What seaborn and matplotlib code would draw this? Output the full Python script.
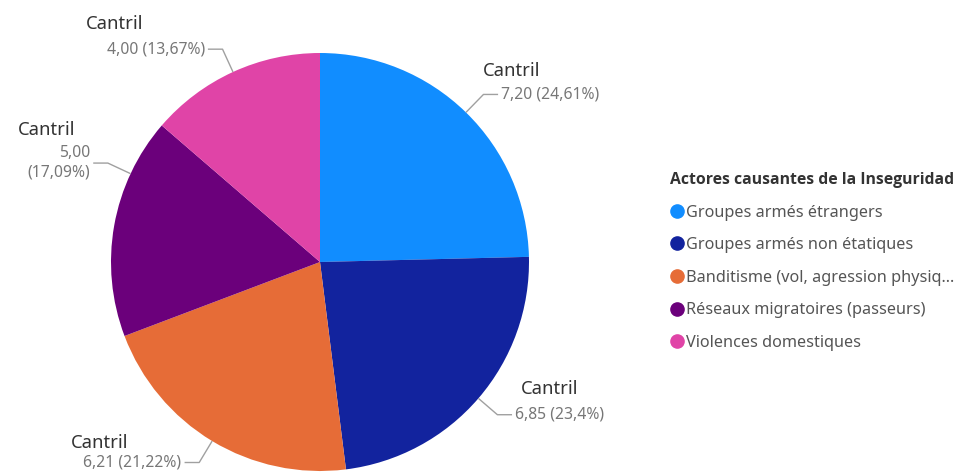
import numpy as np
import matplotlib
matplotlib.use("Agg")
import matplotlib.pyplot as plt
from matplotlib.lines import Line2D
from matplotlib.font_manager import FontProperties
import seaborn as sns

# Données du graphique
categories = [
    "Groupes armés étrangers",
    "Groupes armés non étatiques",
    "Banditisme (vol, agression physiq...",
    "Réseaux migratoires (passeurs)",
    "Violences domestiques",
]
values = [7.20, 6.85, 6.21, 5.00, 4.00]
value_labels = ["7,20 (24,61%)", "6,85 (23,4%)", "6,21 (21,22%)", "5,00\n(17,09%)", "4,00 (13,67%)"]
series_name = "Cantril"
legend_title = "Actores causantes de la Inseguridad"

colors = ["#118DFF", "#12239E", "#E66C37", "#6B007B", "#E044A7"]

sns.set_theme(style="white")
plt.rcParams['font.family'] = ['Noto Sans', 'DejaVu Sans']

W, H = 969, 475
CX, CY, R = 320, 262, 209  # centre et rayon du camembert en pixels

fig = plt.figure(figsize=(W / 100, H / 100), dpi=100)
ax = fig.add_axes([0, 0, 1, 1])

wedges, _ = ax.pie(values, colors=colors, startangle=90, counterclock=False,
                   radius=1, wedgeprops=dict(linewidth=0))
ax.set_xlim(-CX / R, (W - CX) / R)
ax.set_ylim(-(H - CY) / R, CY / R)
ax.set_aspect('equal')
ax.axis('off')

# Placement des étiquettes (décalages en pixels pour "Cantril")
angle_override = {3: 155}
cantril_offset = [(-18, 23), (6, 26), (-53, 20), (-15, 33), (-61, 25)]
px = 1 / R

for i, w in enumerate(wedges):
    ang = angle_override.get(i, (w.theta1 + w.theta2) / 2)
    a = np.deg2rad(ang)
    cx, cy = np.cos(a), np.sin(a)
    ex, ey = 1.12 * cx, 1.12 * cy
    side = 1 if cx >= 0 else -1
    hx = ex + side * 0.07
    ax.plot([cx, ex, hx], [cy, ey, ey], color="#A0A0A0", lw=1, solid_capstyle='butt')
    tx = hx + side * 0.015
    ha = 'left' if side > 0 else 'right'
    ax.text(tx, ey, value_labels[i], ha=ha, va='center', multialignment='right',
            fontsize=11.3, color="#777777", linespacing=1.3)
    dx, dy = cantril_offset[i]
    ax.text(tx + dx * px, ey + dy * px, series_name, ha=ha, va='center',
            fontsize=13.3, color="#333333")

handles = [Line2D([0], [0], marker='o', linestyle='', markersize=9.5,
                  markerfacecolor=c, markeredgecolor=c) for c in colors]
title_font = FontProperties(family=['Open Sans', 'DejaVu Sans'], weight='bold', size=11.3)
leg = fig.legend(handles, categories, title=legend_title, loc='upper left',
                 bbox_to_anchor=(670 / W, 1 - 172 / H), frameon=False,
                 fontsize=11.7, alignment='left',
                 title_fontproperties=title_font,
                 handlelength=0.8, handletextpad=0.2, labelspacing=1.02,
                 borderaxespad=0, borderpad=0)
leg.get_title().set_color("#333333")
for t in leg.get_texts():
    t.set_color("#555555")

fig.savefig("out.png", dpi=100)
